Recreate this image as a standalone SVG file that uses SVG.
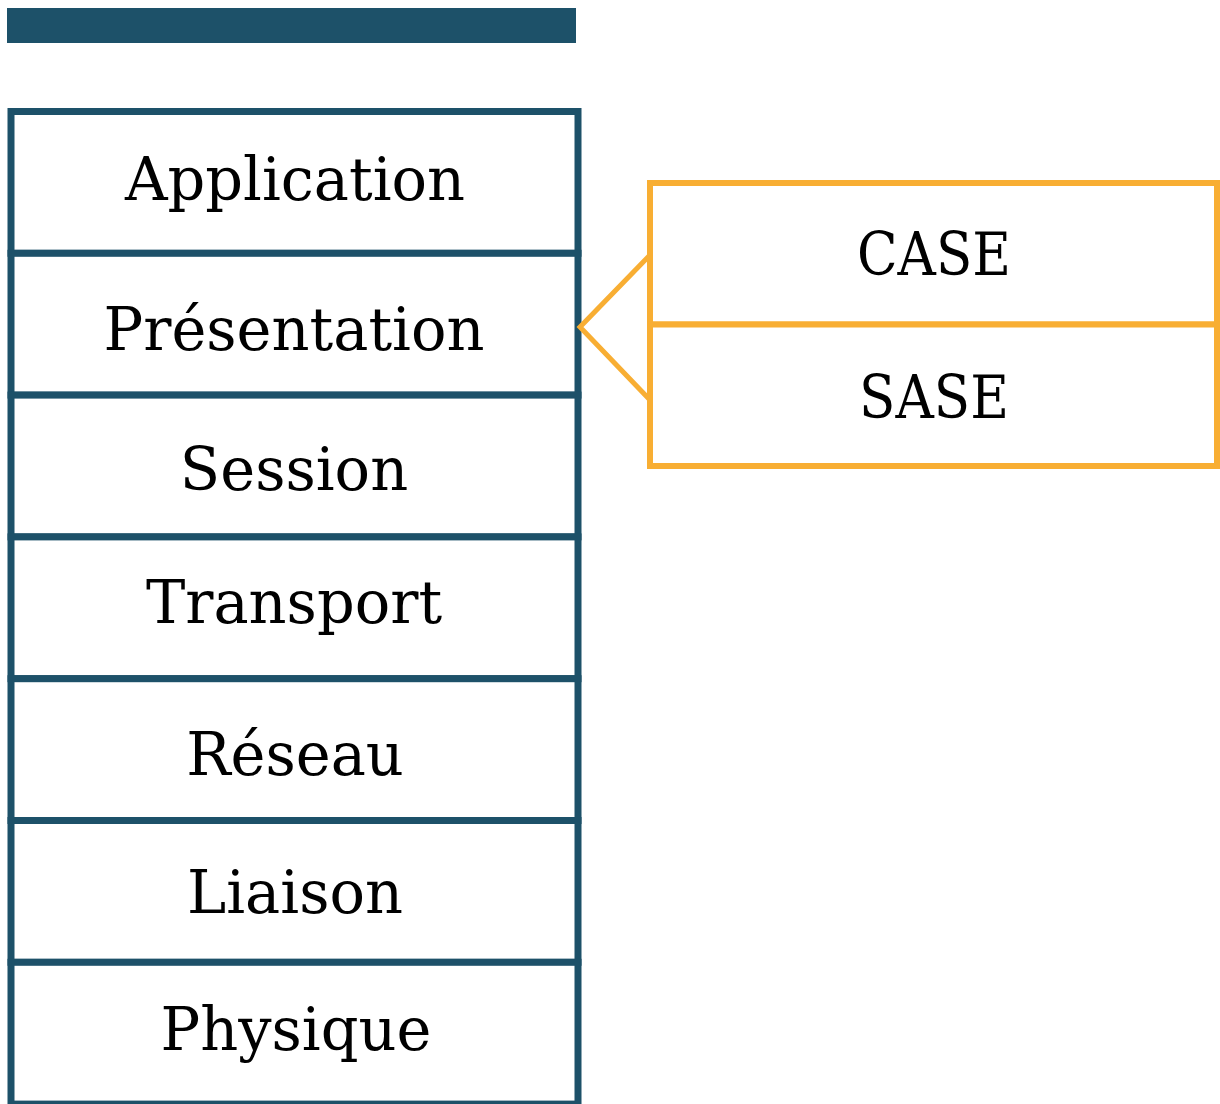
<svg xmlns="http://www.w3.org/2000/svg" width="1220" height="1104" viewBox="0 0 1220 1104">
<style>
.layer{fill:#fff;stroke:#1d5169;stroke-width:7}
.sub{fill:#fff;stroke:#f8ae33;stroke-width:6}
.lbl{font-family:"DejaVu Serif","Liberation Serif",serif;font-size:59px;fill:#000;text-anchor:middle}
.conn{fill:none;stroke:#f8ae33;stroke-width:5;stroke-linejoin:miter}
</style>
<rect id="titlebar" x="7" y="8" width="569" height="35" fill="#1d5169"/>
<g id="application"><rect class="layer" x="11" y="111.5" width="567" height="141.8"/><text class="lbl" x="295" y="200">Application</text></g>
<g id="presentation"><rect class="layer" x="11" y="253.3" width="567" height="141.8"/><text class="lbl" x="294" y="350">Présentation</text></g>
<g id="session"><rect class="layer" x="11" y="395.1" width="567" height="141.8"/><text class="lbl" x="294" y="490">Session</text></g>
<g id="transport"><rect class="layer" x="11" y="536.9" width="567" height="141.8"/><text class="lbl" x="294" y="623">Transport</text></g>
<g id="reseau"><rect class="layer" x="11" y="678.7" width="567" height="141.8"/><text class="lbl" x="295" y="775">Réseau</text></g>
<g id="liaison"><rect class="layer" x="11" y="820.5" width="567" height="141.8"/><text class="lbl" x="295" y="913">Liaison</text></g>
<g id="physique"><rect class="layer" x="11" y="962.3" width="567" height="141.8"/><text class="lbl" x="296" y="1050">Physique</text></g>
<g id="connectors"><polyline class="conn" points="650,255 580,327 650,400"/></g>
<g id="case"><rect class="sub" x="650" y="183" width="567" height="141.5"/><text class="lbl" x="934" y="275" textLength="154" lengthAdjust="spacingAndGlyphs">CASE</text></g>
<g id="sase"><rect class="sub" x="650" y="324.5" width="567" height="141.5"/><text class="lbl" x="934" y="418" textLength="150" lengthAdjust="spacingAndGlyphs">SASE</text></g>
</svg>
